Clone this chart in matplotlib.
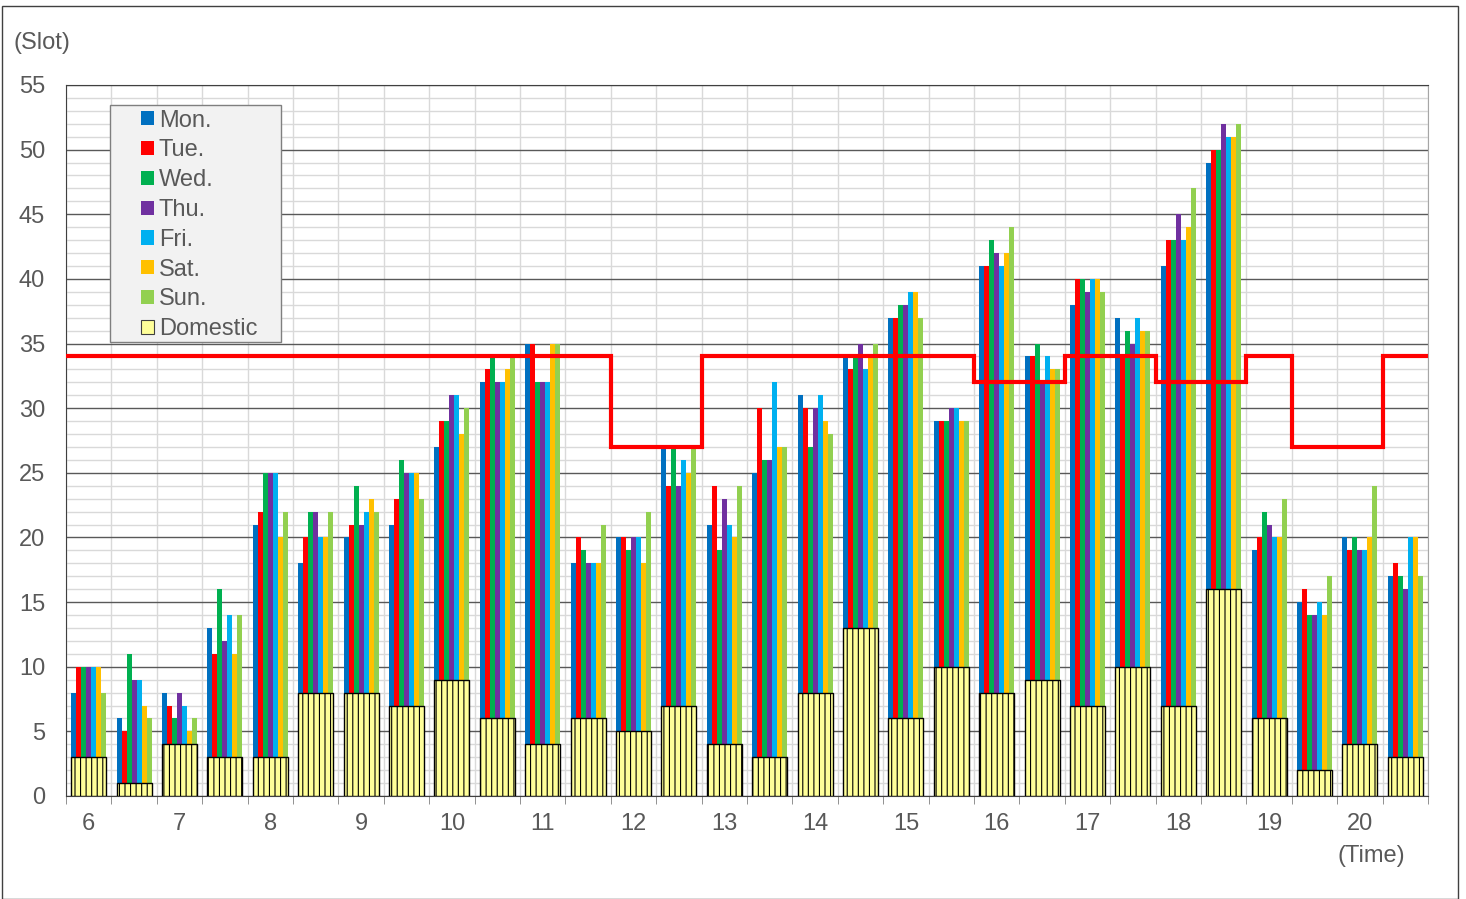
import numpy as np
import matplotlib.pyplot as plt
from matplotlib.patches import Rectangle, Patch

plt.rcParams['font.family'] = ['Liberation Sans', 'DejaVu Sans']
plt.rcParams['hatch.linewidth'] = 0.8

# 30 half-hour slots, 6:00 .. 20:30
hour_labels = ['6', '7', '8', '9', '10', '11', '12', '13', '14', '15',
               '16', '17', '18', '19', '20']
days = ['Mon.', 'Tue.', 'Wed.', 'Thu.', 'Fri.', 'Sat.', 'Sun.']
day_colors = ['#0070C0', '#FF0000', '#00B050', '#7030A0', '#00B0F0', '#FFC000', '#92D050']

mon = [8, 6, 8, 13, 21, 18, 20, 21, 27, 32, 35, 18, 20, 27, 21, 25, 31, 34, 37, 29,
       41, 34, 38, 37, 41, 49, 19, 15, 20, 17]
tue = [10, 5, 7, 11, 22, 20, 21, 23, 29, 33, 35, 20, 20, 24, 24, 30, 30, 33, 37, 29,
       41, 34, 40, 34, 43, 50, 20, 16, 19, 18]
wed = [10, 11, 6, 16, 25, 22, 24, 26, 29, 34, 32, 19, 19, 27, 19, 26, 27, 34, 38, 29,
       43, 35, 40, 36, 43, 50, 22, 14, 20, 17]
thu = [10, 9, 8, 12, 25, 22, 21, 25, 31, 32, 32, 18, 20, 24, 23, 26, 30, 35, 38, 30,
       42, 32, 39, 35, 45, 52, 21, 14, 19, 16]
fri = [10, 9, 7, 14, 25, 20, 22, 25, 31, 32, 32, 18, 20, 26, 21, 32, 31, 33, 39, 30,
       41, 34, 40, 37, 43, 51, 20, 15, 19, 20]
sat = [10, 7, 5, 11, 20, 20, 23, 25, 28, 33, 35, 18, 18, 25, 20, 27, 29, 34, 39, 29,
       42, 33, 40, 36, 44, 51, 20, 14, 20, 20]
sun = [8, 6, 6, 14, 22, 22, 22, 23, 30, 34, 35, 21, 22, 27, 24, 27, 28, 35, 37, 29,
       44, 33, 39, 36, 47, 52, 23, 17, 24, 17]
domestic = [3, 1, 4, 3, 3, 8, 8, 7, 9, 6, 4, 6, 5, 7, 4, 3, 8, 13, 6, 10,
            8, 9, 7, 10, 7, 16, 6, 2, 4, 3]
capacity = [34] * 12 + [27] * 2 + [34] * 6 + [32] * 2 + [34] * 2 + [32] * 2 + [34] + [27] * 2 + [34]

series = [mon, tue, wed, thu, fri, sat, sun]
n = len(mon)
x = np.arange(n) + 0.5
bw = 0.11

fig = plt.figure(figsize=(14.66, 8.99), dpi=100)
ax = fig.add_axes([66 / 1466, 1 - 796 / 899, (1428 - 66) / 1466, (796 - 85) / 899])

for k, (vals, c) in enumerate(zip(series, day_colors)):
    ax.bar(x + (k - 3) * bw, vals, width=bw, color=c, linewidth=0, zorder=2)
ax.bar(x, domestic, width=7 * bw, color='#FFFF99', edgecolor='black',
       linewidth=1.0, hatch='|||', zorder=3)
ax.stairs(capacity, np.arange(n + 1), color='#FF0000', linewidth=3, zorder=4, baseline=None)

ax.set_xlim(0, n)
ax.set_ylim(0, 55)
ax.set_yticks(np.arange(0, 56, 5))
ax.set_yticks(np.arange(0, 56, 1), minor=True)
ax.set_xticks(np.arange(0.5, n, 2), hour_labels)
ax.set_xticks(np.arange(0, n + 1), minor=True)
ax.tick_params(axis='x', which='major', length=0, pad=12, labelsize=17, labelcolor='#595959')
ax.tick_params(axis='x', which='minor', length=6, direction='out', color='#808080')
ax.tick_params(axis='y', which='both', length=0, pad=15, labelsize=17, labelcolor='#595959')

ax.grid(axis='y', which='minor', color='#D9D9D9', linewidth=1.0, zorder=0)
ax.grid(axis='y', which='major', color='#595959', linewidth=1.0, zorder=1)
ax.grid(axis='x', which='minor', color='#D9D9D9', linewidth=1.0, zorder=0)
ax.set_axisbelow(True)

for s in ['left', 'top', 'bottom']:
    ax.spines[s].set_color('#404040')
ax.spines['right'].set_color('#A6A6A6')

# legend box
ax.add_patch(Rectangle((0.0323, 0.6385), 0.1256, 0.3334, transform=ax.transAxes,
                       facecolor='#F2F2F2', edgecolor='#7F7F7F', linewidth=1.0, zorder=5))
handles = [Patch(facecolor=c, edgecolor='none') for c in day_colors]
handles.append(Patch(facecolor='#FFFF99', edgecolor='#404040', linewidth=0.8))
leg = ax.legend(handles, days + ['Domestic'], loc='upper left',
                bbox_to_anchor=(0.0551, 0.9653), frameon=False, fontsize=17,
                borderpad=0, borderaxespad=0, handlelength=0.55, handleheight=0.55,
                handletextpad=0.2, labelspacing=0.33, labelcolor='#595959')
leg.set_zorder(6)

fig.text(42 / 1466, 1 - 43 / 899, '(Slot)', ha='center', va='center', fontsize=17, color='#595959')
fig.text(1371 / 1466, 1 - 856 / 899, '(Time)', ha='center', va='center', fontsize=17, color='#595959')

fig.patches.append(Rectangle((1.5 / 1466, 0.5 / 899), 1456 / 1466, 893 / 899,
                             transform=fig.transFigure, fill=False,
                             edgecolor='#404040', linewidth=1.0))

fig.savefig('out.png', dpi=100)
